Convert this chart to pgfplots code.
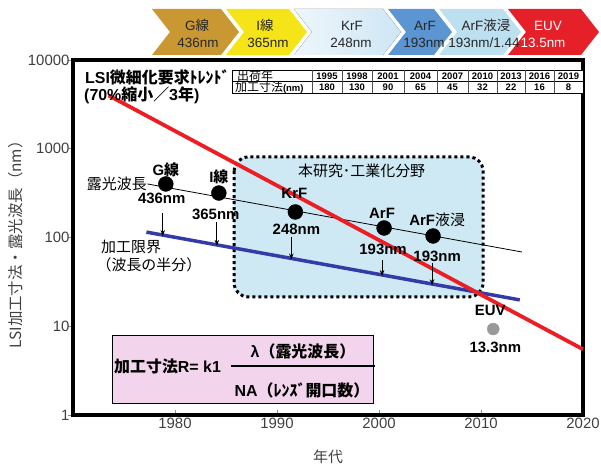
\documentclass[border=0pt]{standalone}
\usepackage{pgfplots}
\pgfplotsset{compat=1.18}
\usepackage{fontspec}
\setmainfont{Liberation Sans}
\newfontfamily\jp{Noto Sans CJK JP}
\usetikzlibrary{arrows.meta}
\newcommand\fs[1]{\fontsize{#1}{#1}\selectfont}
\newcommand\J[1]{{\jp #1}}
\definecolor{cgold}{RGB}{201,152,50}
\definecolor{cyel}{RGB}{244,228,24}
\definecolor{ckrf}{RGB}{206,230,245}
\definecolor{carf}{RGB}{92,150,210}
\definecolor{cimm}{RGB}{188,224,240}
\definecolor{ceuv}{RGB}{230,32,40}
\definecolor{redl}{RGB}{236,30,36}
\definecolor{bluel}{RGB}{52,58,168}
\definecolor{boxcol}{RGB}{206,233,243}
\definecolor{pinkb}{RGB}{242,213,236}
\newcommand\chev[4]{\fill[#4] (#1,9) -- (#3,9) -- (#2,32) -- (#3,55) -- (#1,55) -- ({#1+18},32) -- cycle;}
\begin{document}
\begin{tikzpicture}[x=1bp,y=1bp]
\useasboundingbox (-73,-51) rectangle (528,415);
\begin{axis}[
  at={(0,0)}, anchor=south west, scale only axis, width=510bp, height=355bp,
  xmin=1970, xmax=2020, ymode=log, ymin=1, ymax=10000,
  xtick={1980,1990,2000,2010,2020}, xticklabels={1980,1990,2000,2010,2020},
  ytick={1,10,100,1000,10000}, yticklabels={1,10,100,1000,10000},
  yminorticks=false, xtick pos=bottom, ytick pos=left,
  tick align=inside, major tick length=5bp,
  tick style={black!45, line width=0.8bp},
  ytick style={xshift=-5bp},
  axis line style={line width=3.2bp, black},
  tick label style={font=\fs{15}, text=black!75},
  clip=false,
]
\draw[fill=boxcol, line width=3bp, dash pattern=on 3bp off 3bp, rounded corners=14bp]
  (axis cs:1985.8,807) rectangle (axis cs:2010.2,21.4);
\addplot[black, line width=0.8bp] coordinates {(1977.3,401) (2014.0,68.7)};
\addplot[bluel, line width=3.5bp] coordinates {(1977.2,115) (2013.8,19.8)};
\addplot[redl, line width=3.8bp] coordinates {(1973.5,3981) (2020,5.5)};
\addplot[only marks, mark=*, mark size=7.5pt, black] coordinates {
  (1979.1,401) (1984.3,317) (1991.8,194) (2000.5,128) (2005.3,104)};
\addplot[only marks, mark=*, mark size=6pt, color=black!40] coordinates {(2011.2,9.3)};
% arrows
\draw[-{Stealth[length=6bp,width=4.5bp]}, line width=0.8bp] (axis cs:1978.8,189) -- (axis cs:1978.8,104);
\draw[-{Stealth[length=6bp,width=4.5bp]}, line width=0.8bp] (axis cs:1984.1,150) -- (axis cs:1984.1,80.5);
\draw[-{Stealth[length=6bp,width=4.5bp]}, line width=0.8bp] (axis cs:1991.4,101) -- (axis cs:1991.4,56.5);
\draw[-{Stealth[length=6bp,width=4.5bp]}, line width=0.8bp] (axis cs:2000.3,55.7) -- (axis cs:2000.3,36.8);
\draw[-{Stealth[length=6bp,width=4.5bp]}, line width=0.8bp] (axis cs:2005.2,51.6) -- (axis cs:2005.2,29.0);
% labels
\node[font=\bfseries\fs{15}] at (axis cs:1979.1,577) {G\J{線}};
\node[font=\bfseries\fs{15}] at (axis cs:1978.7,279) {436nm};
\node[font=\bfseries\fs{15}] at (axis cs:1984.3,481) {I\J{線}};
\node[font=\bfseries\fs{15}] at (axis cs:1984.0,184) {365nm};
\node[font=\bfseries\fs{15}] at (axis cs:1991.7,317) {KrF};
\node[font=\bfseries\fs{15}] at (axis cs:1991.9,122) {248nm};
\node[font=\bfseries\fs{15}] at (axis cs:2000.3,189) {ArF};
\node[font=\bfseries\fs{15}] at (axis cs:2000.4,74) {193nm};
\node[font=\bfseries\fs{15}] at (axis cs:2005.7,157) {ArF\J{\mdseries 液浸}};
\node[font=\bfseries\fs{15}] at (axis cs:2005.7,62) {193nm};
\node[font=\bfseries\fs{15}] at (axis cs:2010.9,14.9) {EUV};
\node[font=\bfseries\fs{15}] at (axis cs:2011.4,5.8) {13.3nm};
\node[font=\jp\fs{15}] at (axis cs:1998.3,561) {本研究･工業化分野};
\node[font=\jp\fs{15}] at (axis cs:1974.3,401) {露光波長};
\node[font=\jp\fs{15}, anchor=west, inner sep=0pt] at (axis cs:1972.75,78.2) {加工限界};
\node[font=\jp\fs{15}, anchor=west, inner sep=0pt] at (axis cs:1972.3,49) {（波長の半分）};
\end{axis}
\begin{scope}[shift={(-73,415)}, yscale=-1]
  % banner
  \chev{152}{239}{221}{cgold}
  \chev{226}{307}{289}{cyel}
  \chev{294}{401}{383}{left color=ckrf!35, right color=ckrf}
  \chev{388}{452}{434}{carf}
  \chev{439}{521}{503}{cimm}
  \chev{508}{599}{581}{ceuv}
  \begin{scope}[every node/.style={font=\fs{13.5}, inner sep=0pt, text=black!85}]
    \node at (197,25.6) {G\J{線}};   \node at (198,43) {436nm};
    \node at (265,25.6) {I\J{線}};   \node at (268,43) {365nm};
    \node at (352,25.6) {KrF};       \node at (351,43) {248nm};
    \node at (425,25.6) {ArF};       \node at (424,43) {193nm};
    \node at (486,25.6) {ArF\J{液浸}}; \node at (484,43) {193nm/1.44};
    \node[text=white] at (548,25.6) {EUV}; \node[text=white] at (543,43) {13.5nm};
  \end{scope}
  % table
  \fill[white] (232,70) rectangle (583,93);
  \draw[line width=0.7bp] (232,70) rectangle (583,93);
  \draw[line width=0.6bp] (232,81.5) -- (583,81.5);
  \foreach \xx in {312,342,372,404,437,468,497,525,554} {\draw[line width=0.5bp, black!70] (\xx,70) -- (\xx,93);}
  \node[font=\jp\fs{12}, anchor=west, inner sep=0pt] at (237,75.8) {出荷年};
  \node[font=\fs{12}, anchor=west, inner sep=0pt] at (235,87.4) {\J{加工寸法}\fs{9.5}\bfseries(nm)};
  \foreach \xx/\yy/\vv in {327/1995/180, 357/1998/130, 388/2001/90, 420.5/2004/65, 452.5/2007/45, 482.5/2010/32, 511/2013/22, 539.5/2016/16, 568.5/2019/8} {
    \node[font=\bfseries\fs{9.5}, inner sep=0pt] at (\xx,75.9) {\yy};
    \node[font=\bfseries\fs{9.5}, inner sep=0pt] at (\xx,87.5) {\vv};
  }
  % title texts
  \node[font=\bfseries\fs{16}, anchor=west, inner sep=0pt] at (85,77) {LSI\J{微細化要求ﾄﾚﾝﾄﾞ}};
  \node[font=\bfseries\fs{16}, anchor=west, inner sep=0pt] at (84,95) {(70\%\J{縮小／}3\J{年})};
  % formula box
  \draw[fill=pinkb, line width=0.8bp] (112,335) rectangle (373,403);
  \node[font=\bfseries\fs{16}, anchor=west, inner sep=0pt] at (114,366) {\J{加工寸法}R= k1};
  \draw[line width=2.6bp] (231,366) -- (375,366);
  \node[font=\bfseries\fs{16}, inner sep=0pt] at (303,351) {λ\J{（露光波長）}};
  \node[font=\bfseries\fs{16}, inner sep=0pt] at (302,390) {NA\J{（ﾚﾝｽﾞ開口数）}};
\end{scope}
% axis titles
\node[rotate=90, font=\jp\fs{15.5}, text=black!75] at (-57,174) {LSI加工寸法・露光波長（nm）};
\node[font=\jp\fs{15}, text=black!75] at (255,-42) {年代};
\end{tikzpicture}
\end{document}
